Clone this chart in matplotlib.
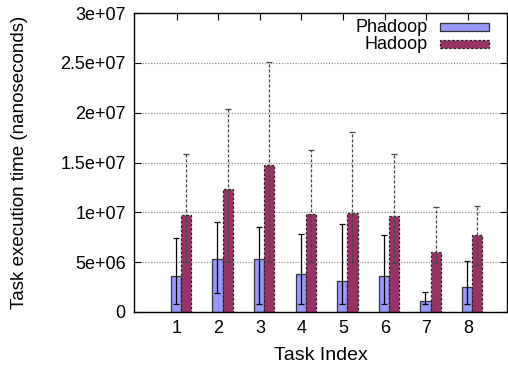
import numpy as np
import matplotlib.pyplot as plt
from matplotlib.patches import Rectangle

plt.rcParams['font.family'] = ['Liberation Sans', 'DejaVu Sans']

tasks = [1, 2, 3, 4, 5, 6, 7, 8]

# Phadoop: mean, low, high (x1e6 ns)
phadoop = [3.61, 5.28, 5.28, 3.78, 3.08, 3.61, 1.10, 2.51]
phadoop_lo = [0.77, 1.87, 0.77, 0.77, 0.77, 0.77, 0.77, 0.77]
phadoop_hi = [7.46, 9.03, 8.49, 7.79, 8.86, 7.69, 2.04, 5.08]

# Hadoop: mean, low, high (x1e6 ns)
hadoop = [9.73, 12.34, 14.78, 9.83, 9.97, 9.67, 6.02, 7.73]
hadoop_lo = [5.05, 5.05, 5.05, 5.05, 5.05, 4.88, 4.88, 4.72]
hadoop_hi = [15.82, 20.37, 25.05, 16.22, 18.03, 15.85, 10.57, 10.67]

series_names = ["Phadoop", "Hadoop"]
yticks = [0, 5e6, 1e7, 1.5e7, 2e7, 2.5e7, 3e7]
ylabels = ["0", "5e+06", "1e+07", "1.5e+07", "2e+07", "2.5e+07", "3e+07"]

blue = "#9999ff"
red = "#993366"
fs = 13

x = np.array(tasks, dtype=float)
s = 1e6
ph = np.array(phadoop) * s
hd = np.array(hadoop) * s
ph_err = [ph - np.array(phadoop_lo) * s, np.array(phadoop_hi) * s - ph]
hd_err = [hd - np.array(hadoop_lo) * s, np.array(hadoop_hi) * s - hd]

fig = plt.figure(figsize=(5.08, 3.71), dpi=100)
ax = fig.add_axes([134 / 508, 59 / 371, 373 / 508, 299 / 371])

w = 0.245
xb = x - 0.02
xr = x + 0.225

blue_style = dict(facecolor=blue, edgecolor="#333333", linewidth=0.9)
red_style = dict(facecolor=red, edgecolor="#222222", linewidth=0.9,
                 linestyle=(0, (2, 1.5)))

ax.bar(xb, ph, width=w, zorder=2, **blue_style)
ax.bar(xr, hd, width=w, zorder=2, **red_style)

ax.errorbar(xb, ph, yerr=ph_err, fmt="none", ecolor="black", elinewidth=0.9,
            capsize=2, capthick=0.9, zorder=3)
eb = ax.errorbar(xr, hd, yerr=hd_err, fmt="none", ecolor="#444444", elinewidth=0.9,
                 capsize=2, capthick=0.9, zorder=3)
for lc in eb[2]:
    lc.set_linestyle((0, (2.5, 1.5)))

ax.set_xlim(-0.026, 8.94)
ax.set_ylim(0, 3e7)
ax.set_yticks(yticks)
ax.set_yticklabels(ylabels)
ax.set_xticks(tasks)
ax.set_xticklabels([str(t) for t in tasks])
ax.tick_params(direction="in", length=5, width=0.8, labelsize=fs,
               top=True, right=True, pad=6)
ax.yaxis.grid(True, linestyle=(0, (1, 1.5)), color="#888888", linewidth=0.8, zorder=0)
ax.set_axisbelow(True)
for sp in ax.spines.values():
    sp.set_linewidth(1.0)

ax.set_xlabel("Task Index", fontsize=14, labelpad=7)
ax.set_ylabel("Task execution time (nanoseconds)", fontsize=13.5, labelpad=23)

# gnuplot-style key: right-aligned text, sample box to its right
for i, (name, st) in enumerate(zip(series_names, [blue_style, red_style])):
    yk = 0.952 - i * 0.057
    ax.text(0.788, yk, name, transform=ax.transAxes, ha="right", va="center",
            fontsize=fs)
    ax.add_patch(Rectangle((0.820, yk - 0.0135), 0.131, 0.027,
                           transform=ax.transAxes, clip_on=False, zorder=4, **st))

fig.savefig("out.png", dpi=100)
